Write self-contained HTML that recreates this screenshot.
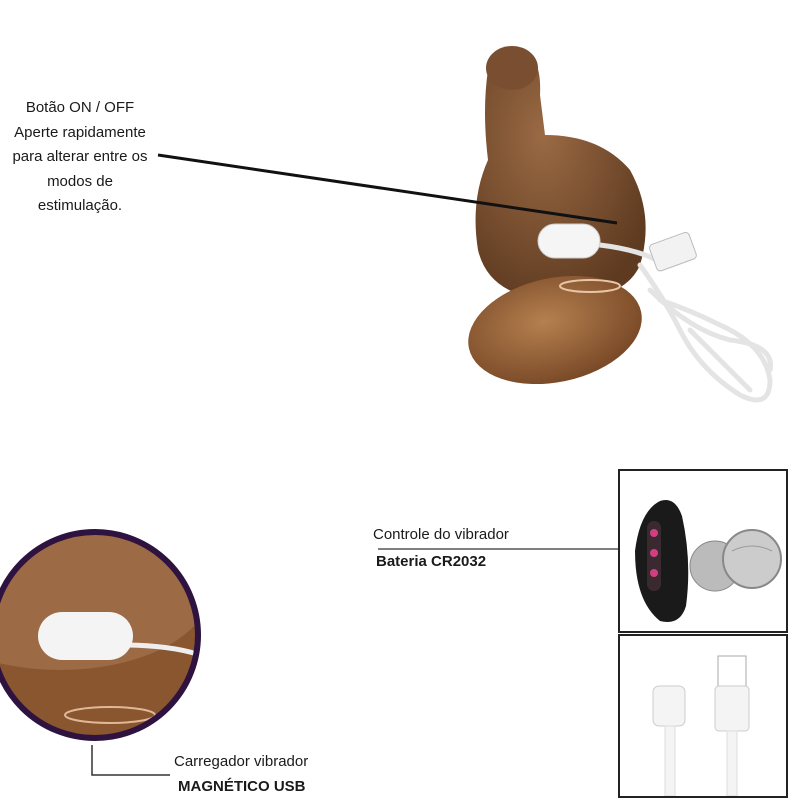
<!DOCTYPE html>
<html><head><meta charset="utf-8"><style>
html,body{margin:0;padding:0;background:#fff;}
body{width:800px;height:800px;position:relative;overflow:hidden;font-family:"Liberation Sans",sans-serif;}
.t{position:absolute;color:#1a1a1a;font-size:15px;white-space:nowrap;}
.c{text-align:center;}
.box{position:absolute;border:2px solid #222;background:#fff;box-sizing:border-box;}
</style></head><body>
<svg width="800" height="800" style="position:absolute;left:0;top:0">
  <defs>
    <radialGradient id="br" cx="0.4" cy="0.35" r="0.7">
      <stop offset="0" stop-color="#9a6a44"/><stop offset="1" stop-color="#5e3a20"/>
    </radialGradient>
    <radialGradient id="br2" cx="0.45" cy="0.4" r="0.6">
      <stop offset="0" stop-color="#b5804f"/><stop offset="1" stop-color="#7a4a28"/>
    </radialGradient>
  </defs>
  <!-- toy -->
  <path d="M488 70 Q495 45 520 48 Q542 55 540 95 L545 135 Q600 135 630 170 Q655 215 640 265 Q625 300 560 300 Q490 300 478 250 Q470 200 488 160 Q482 110 488 70Z" fill="url(#br)"/>
  <ellipse cx="512" cy="68" rx="26" ry="22" fill="#7a4e30"/>
  <ellipse cx="555" cy="330" rx="88" ry="52" transform="rotate(-12 555 330)" fill="url(#br2)"/>
  <ellipse cx="590" cy="286" rx="30" ry="6" fill="none" stroke="#e8c5a5" stroke-width="2"/>
  <!-- cable -->
  <g fill="none" stroke="#e4e4e4" stroke-width="5" stroke-linecap="round">
    <path d="M600 245 Q640 250 660 262"/>
    <path d="M640 265 Q665 300 680 330 Q700 370 740 395 Q770 410 770 380 Q765 345 720 325 Q690 310 660 300"/>
    <path d="M650 290 Q690 330 730 340 Q775 345 770 370"/>
    <path d="M690 330 Q720 360 750 390"/>
  </g>
  <rect x="652" y="238" width="42" height="28" rx="4" fill="#f2f2f2" stroke="#bbb" transform="rotate(-20 672 252)"/>
  <rect x="538" y="224" width="62" height="34" rx="17" fill="#f5f5f5" stroke="#ccc"/>
  <!-- pointer line -->
  <line x1="158" y1="155" x2="617" y2="223" stroke="#111" stroke-width="3"/>
  <!-- circle -->
  <clipPath id="cc"><circle cx="95" cy="635" r="103"/></clipPath>
  <g clip-path="url(#cc)">
    <rect x="-10" y="530" width="210" height="210" fill="#8a5630"/>
    <ellipse cx="60" cy="590" rx="150" ry="80" fill="#9c6a44"/>
    <ellipse cx="110" cy="715" rx="45" ry="8" fill="none" stroke="#e0b898" stroke-width="2"/>
    <path d="M120 645 Q170 645 200 655" stroke="#eee" stroke-width="5" fill="none"/>
    <rect x="38" y="612" width="95" height="48" rx="24" fill="#f4f4f4"/>
  </g>
  <circle cx="95" cy="635" r="103" fill="none" stroke="#2e1240" stroke-width="6"/>
  <polyline points="92,745 92,775 170,775" fill="none" stroke="#333" stroke-width="1.5"/>
  <line x1="378" y1="549" x2="618" y2="549" stroke="#555" stroke-width="1.5"/>
</svg>
<div class="t c" style="left:0;top:96px;width:160px;line-height:24.5px;">Botão ON / OFF<br>Aperte rapidamente<br>para alterar entre os<br>modos de<br>estimulação.</div>
<div class="t" style="left:373px;top:526px;">Controle do vibrador</div>
<div class="t" style="left:376px;top:553px;font-weight:bold;">Bateria CR2032</div>
<div class="t" style="left:174px;top:753px;">Carregador vibrador</div>
<div class="t" style="left:178px;top:778px;font-weight:bold;">MAGNÉTICO USB</div>
<div class="box" style="left:618px;top:469px;width:170px;height:164px;">
  <svg width="166" height="160">
    <path d="M40 30 Q20 40 15 80 Q15 130 40 150 Q60 155 66 135 Q72 90 62 45 Q55 25 40 30Z" fill="#1a1a1a"/>
    <rect x="27" y="50" width="14" height="70" rx="7" fill="#3a2a30"/>
    <circle cx="34" cy="62" r="4" fill="#d04080"/><circle cx="34" cy="82" r="4" fill="#d04080"/><circle cx="34" cy="102" r="4" fill="#d04080"/>
    <circle cx="95" cy="95" r="25" fill="#bbb" stroke="#888"/>
    <circle cx="132" cy="88" r="29" fill="#ccc" stroke="#888" stroke-width="2"/>
    <path d="M112 80 Q132 70 152 80" stroke="#999" fill="none"/>
  </svg>
</div>
<div class="box" style="left:618px;top:634px;width:170px;height:164px;">
  <svg width="166" height="160">
    <rect x="33" y="50" width="32" height="40" rx="6" fill="#f4f4f4" stroke="#ccc"/>
    <rect x="45" y="90" width="10" height="70" fill="#f4f4f4" stroke="#ddd"/>
    <rect x="98" y="20" width="28" height="30" fill="#fff" stroke="#aaa"/>
    <rect x="95" y="50" width="34" height="45" rx="4" fill="#f4f4f4" stroke="#ccc"/>
    <rect x="107" y="95" width="10" height="65" fill="#f4f4f4" stroke="#ddd"/>
  </svg>
</div>
</body></html>
